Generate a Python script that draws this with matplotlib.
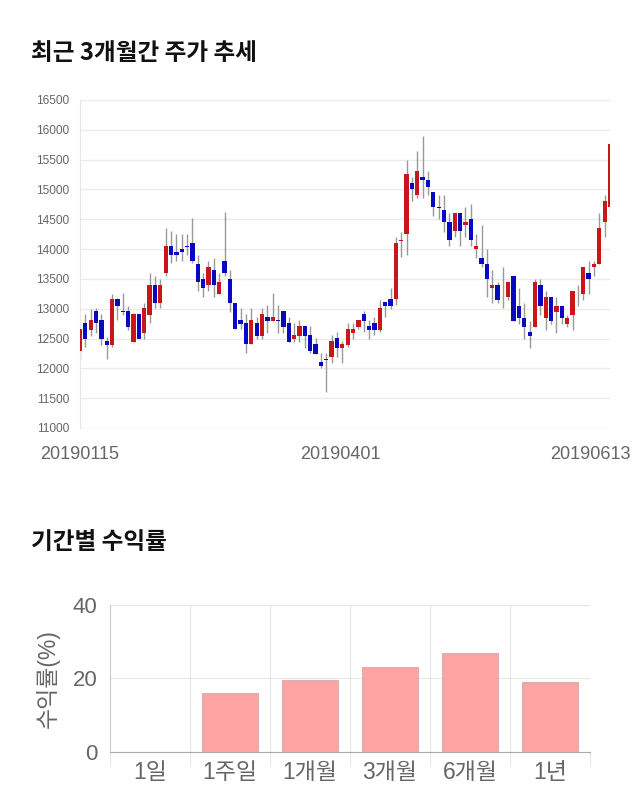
import matplotlib
matplotlib.use("Agg")
import matplotlib.pyplot as plt

plt.rcParams["font.family"] = ["Liberation Sans", "Noto Sans CJK KR"]

opens = [12297,12755,12650,12957,12806,12454,12398,13158,12957,12957,12448,12906,12599,12900,13404,13102,13594,14052,13951,14002,14052,14102,13750,13499,13404,13650,13253,13800,13499,13102,12806,12755,12403,12755,12543,12856,12800,12805,12956,12755,12498,12548,12705,12554,12403,12101,12151,12196,12504,12347,12397,12599,12699,12906,12705,12755,12649,13107,13157,13158,
         14140,14253,15103,14902,15203,15153,14952,14700,14650,14449,14298,14600,14399,14499,13996,13851,13750,13353,13404,13152,13203,13555,13052,12850,12605,12700,13404,12850,13203,12951,13052,12750,12901,13290,13253,13605,13700,13750,14454,14700]
closes = [12655,12498,12806,12755,12498,12398,13158,13052,12950,12700,12906,12498,13007,13404,13102,13404,14052,13907,13901,13951,14040,13800,13454,13353,13700,13404,13454,13600,13102,12655,12750,12403,12806,12549,12906,12800,12856,12800,12699,12448,12554,12705,12548,12297,12247,12045,12140,12453,12347,12403,12654,12654,12805,12800,12649,12649,13007,13051,13051,14097,
         14153,15254,15002,15304,15153,15047,14700,14690,14449,14147,14600,14298,14449,14147,14047,13750,13499,13404,13152,13140,13454,12800,12850,12700,12549,13454,13052,13203,12800,13052,12850,12850,13303,13303,13706,13504,13756,14354,14801,15757]
highs = [12655,12906,12996,13007,12906,12532,13247,13175,13258,13052,12935,12906,13102,13605,13549,13499,14348,14304,14253,14253,14253,14520,13901,13605,13800,13851,13605,14620,13650,13102,13007,12906,13007,12856,13007,13057,13258,13057,12956,12856,12755,12805,12705,12705,12504,12252,12252,12554,12604,12453,12755,12755,12805,12956,12805,12856,13146,13107,13348,14197,
        14292,15494,15203,15650,15896,15304,14952,14902,14902,14600,14600,14600,14700,14751,14248,14399,13996,13650,13454,13700,13454,13555,13353,13102,12800,13499,13499,13303,13203,13203,13052,12901,13303,13404,13706,13806,13806,14600,14902,15800]
lows = [12150,12364,12549,12588,12398,12152,12353,12811,12895,12644,12448,12498,12498,12755,13007,13007,13549,13761,13806,13806,13901,13761,13303,13202,13303,13202,13253,13549,12951,12655,12655,12252,12403,12498,12498,12599,12800,12599,12599,12448,12448,12448,12347,12252,12247,12000,11598,12096,12196,12096,12353,12498,12654,12604,12498,12554,12604,12856,13001,13063,
        13862,13901,14812,14851,14851,14902,14555,14499,14292,14052,14197,14052,14197,14052,13845,13694,13203,13102,13102,13007,13150,12800,12750,12498,12347,12700,12901,12649,12750,12599,12750,12700,12649,13052,13152,13253,13555,13750,14197,14600]

price_ticks = [11000,11500,12000,12500,13000,13500,14000,14500,15000,15500,16000,16500]
date_labels = ["20190115","20190401","20190613"]
date_positions = [0,48.6,95.3]

periods = ["1일","1주일","1개월","3개월","6개월","1년"]
returns = [0,16,19.6,23,27,19]
return_ticks = [0,20,40]

UP = "#c8171c"
DOWN = "#0808c0"
WICK = "#999999"
GREY = "#666666"

fig = plt.figure(figsize=(6.4,8.1),dpi=100)
W,H = 640,810
def axes_px(l,t,r,b):
    return fig.add_axes([l/W,1-b/H,(r-l)/W,(b-t)/H])

ax = axes_px(80,100,610,428)
ax.set_xlim(0,99)
ax.set_ylim(11000,16500)
ax.set_axisbelow(True)
ax.grid(axis="y",color="#ebebeb",lw=1)
for s in ["top","right","bottom"]:
    ax.spines[s].set_visible(False)
ax.spines["left"].set_color("#e6e6e6")
xs = list(range(len(opens)))
ax.vlines(xs,lows,highs,color=WICK,lw=1,zorder=2)
colors = [UP if c>o else DOWN for o,c in zip(opens,closes)]
ax.bar(xs,[c-o for o,c in zip(opens,closes)],bottom=opens,width=0.8,color=colors,lw=0,zorder=3)
ax.set_yticks(price_ticks)
ax.set_yticklabels([str(v) for v in price_ticks],fontsize=8.6,color=GREY)
ax.set_xticks(date_positions)
ax.set_xticklabels(date_labels,fontsize=13,color=GREY)
ax.tick_params(axis="x",length=0,pad=13)
ax.tick_params(axis="y",length=0,pad=8)
for t in ax.get_yticklabels():
    t.set_y(t.get_position()[1])

bx = axes_px(110,605,590,751.5)
bx.set_xlim(0,6)
bx.set_ylim(0,40)
bx.set_axisbelow(True)
centers = [i+0.5 for i in range(6)]
bx.bar(centers,returns,width=0.7,color="#ffa3a3",edgecolor="#d8b0b0",lw=0.8,zorder=3)
bx.set_yticks(return_ticks)
bx.set_yticklabels([str(v) for v in return_ticks],fontsize=16,color=GREY)
bx.set_xticks(range(7),minor=True)
bx.set_xticks(centers)
bx.set_xticklabels(periods,fontsize=16.5,color=GREY)
bx.grid(axis="y",color="#e6e6e6",lw=0.8)
bx.grid(axis="x",which="minor",color="#e6e6e6",lw=0.8)
bx.tick_params(axis="x",which="major",length=0,pad=7)
bx.tick_params(axis="x",which="minor",length=10,color="#e6e6e6",width=0.8)
bx.tick_params(axis="y",length=0,pad=9)
for s in ["top","right"]:
    bx.spines[s].set_visible(False)
bx.spines["left"].set_color("#cccccc")
bx.spines["left"].set_linewidth(0.8)
bx.spines["bottom"].set_color("#aaaaaa")
bx.set_ylabel("수익률(%)",fontsize=16.5,color=GREY,labelpad=9)

fig.text(31/W,1-53/H,"최근 3개월간 주가 추세",fontsize=17,fontweight="bold",va="center",color="#111111",family="Noto Sans CJK KR")
fig.text(31/W,1-542/H,"기간별 수익률",fontsize=17,fontweight="bold",va="center",color="#111111",family="Noto Sans CJK KR")

fig.savefig("out.png",dpi=100)
